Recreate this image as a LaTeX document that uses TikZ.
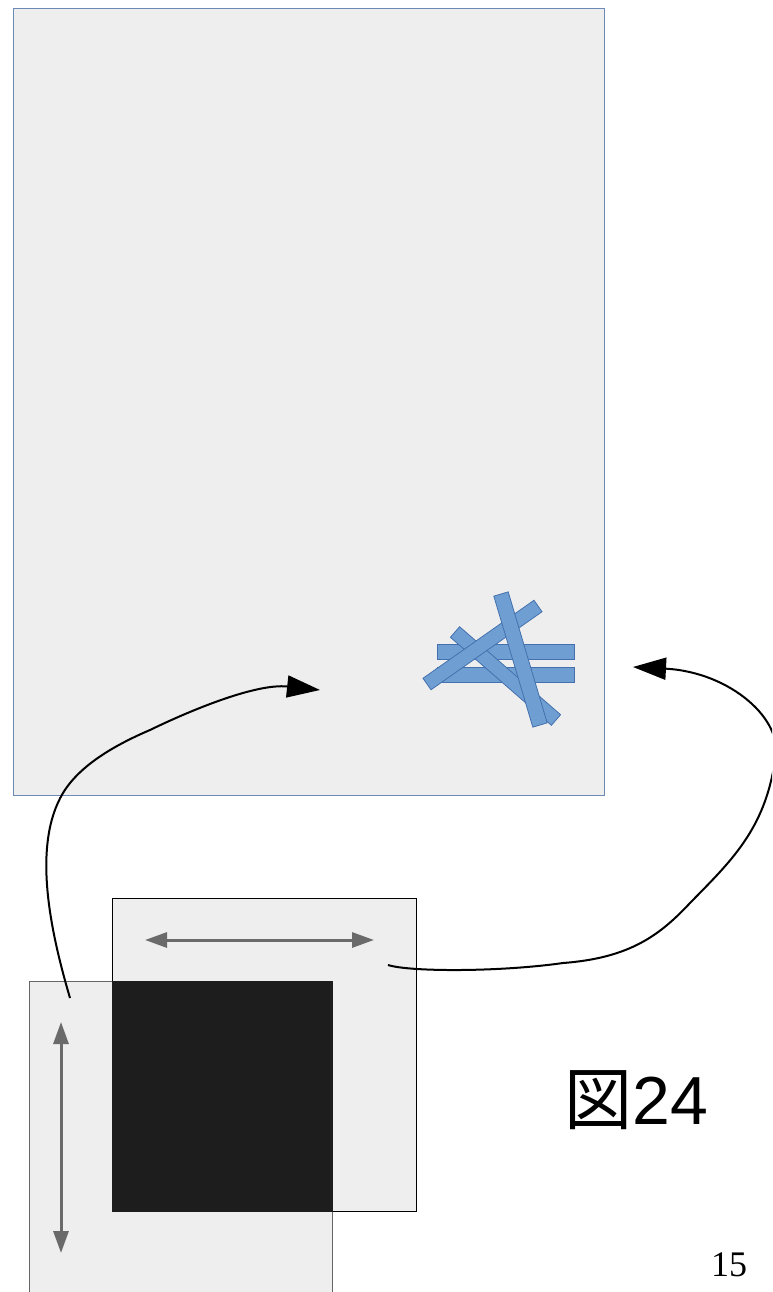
\documentclass[tikz,border=0pt]{standalone}
\usepackage{fontspec}
\setmainfont{Liberation Serif}
\newfontfamily\cjkfont{Noto Sans CJK JP}
\newfontfamily\arialfont{Liberation Sans}
\usetikzlibrary{arrows.meta,calc}
\definecolor{panel}{HTML}{EEEEEE}
\definecolor{panelborder}{HTML}{6C8AB5}
\definecolor{stickfill}{HTML}{6F9FD2}
\definecolor{stickline}{HTML}{4470AE}
\definecolor{arrowgray}{HTML}{6A6A6A}
\definecolor{boxgray}{HTML}{666666}
\definecolor{darksq}{HTML}{1D1D1D}
\tikzset{
  stickst/.style={fill=stickfill,draw=stickline,line width=0.8pt},
  curvest/.style={line width=2pt,-{Triangle[length=33pt,width=22pt]}},
  grayarrow/.style={draw=arrowgray,line width=3pt,{Triangle[length=22pt,width=15pt]}-{Triangle[length=22pt,width=15pt]}},
}
\newcommand\mystick[3]{%
  \filldraw[stickst] ($(#1)!#3!90:(#2)$) -- ($(#2)!#3!-90:(#1)$) -- ($(#2)!#3!90:(#1)$) -- ($(#1)!#3!-90:(#2)$) -- cycle;}
\begin{document}
\begin{tikzpicture}[x=1pt,y=-1pt]
\useasboundingbox (0,0) rectangle (772,1292);
\clip (0,0) rectangle (772,1292);
% big panel
\filldraw[fill=panel,draw=panelborder,line width=1pt] (13,9) rectangle (604,795);
% sticks
\filldraw[stickst] (437,644) rectangle (574,659);
\filldraw[stickst] (437,667) rectangle (574,682);
\coordinate (a1) at (455,632); \coordinate (a2) at (556,720);
\coordinate (b1) at (427,684); \coordinate (b2) at (538,606);
\coordinate (c1) at (501,594); \coordinate (c2) at (540,725);
\mystick{a1}{a2}{7pt}
\mystick{b1}{b2}{7pt}
\mystick{c1}{c2}{7.5pt}
% lower boxes
\filldraw[fill=panel,draw=boxgray,line width=1pt] (29,981) rectangle (332,1300);
\filldraw[fill=panel,draw=black,line width=0.8pt] (112,898) rectangle (416,1211);
\filldraw[fill=darksq,draw=darksq] (112,981) rectangle (332,1211);
% gray double arrows
\coordinate (h1) at (145,940); \coordinate (h2) at (374,940);
\coordinate (v1) at (61,1022); \coordinate (v2) at (61,1253);
\draw[grayarrow] (h1) -- (h2);
\draw[grayarrow] (v1) -- (v2);
% curves
\coordinate (s1) at (70,998); \coordinate (e1) at (320,690);
\coordinate (s2) at (388,965); \coordinate (e2) at (633,667);
\draw[curvest] (s1) .. controls (50,930) and (32,845) .. (63,793)
  .. controls (80,765) and (115,745) .. (150,730)
  .. controls (187,712) and (255,683) .. (e1);
\draw[curvest] (s2) .. controls (410,972) and (500,972) .. (563,963)
  .. controls (630,958) and (660,935) .. (690,903)
  .. controls (730,862) and (765,830) .. (775,760)
  .. controls (785,720) and (730,672) .. (e2);
% texts
\node[anchor=base west,inner sep=0pt] (fig) at (564,1124) {\fontsize{68}{72}\selectfont{\cjkfont 図}{\arialfont 24}};
\node[anchor=base west,inner sep=0pt] (pg) at (711,1276) {\fontsize{36}{40}\selectfont 15};
\end{tikzpicture}
\end{document}
